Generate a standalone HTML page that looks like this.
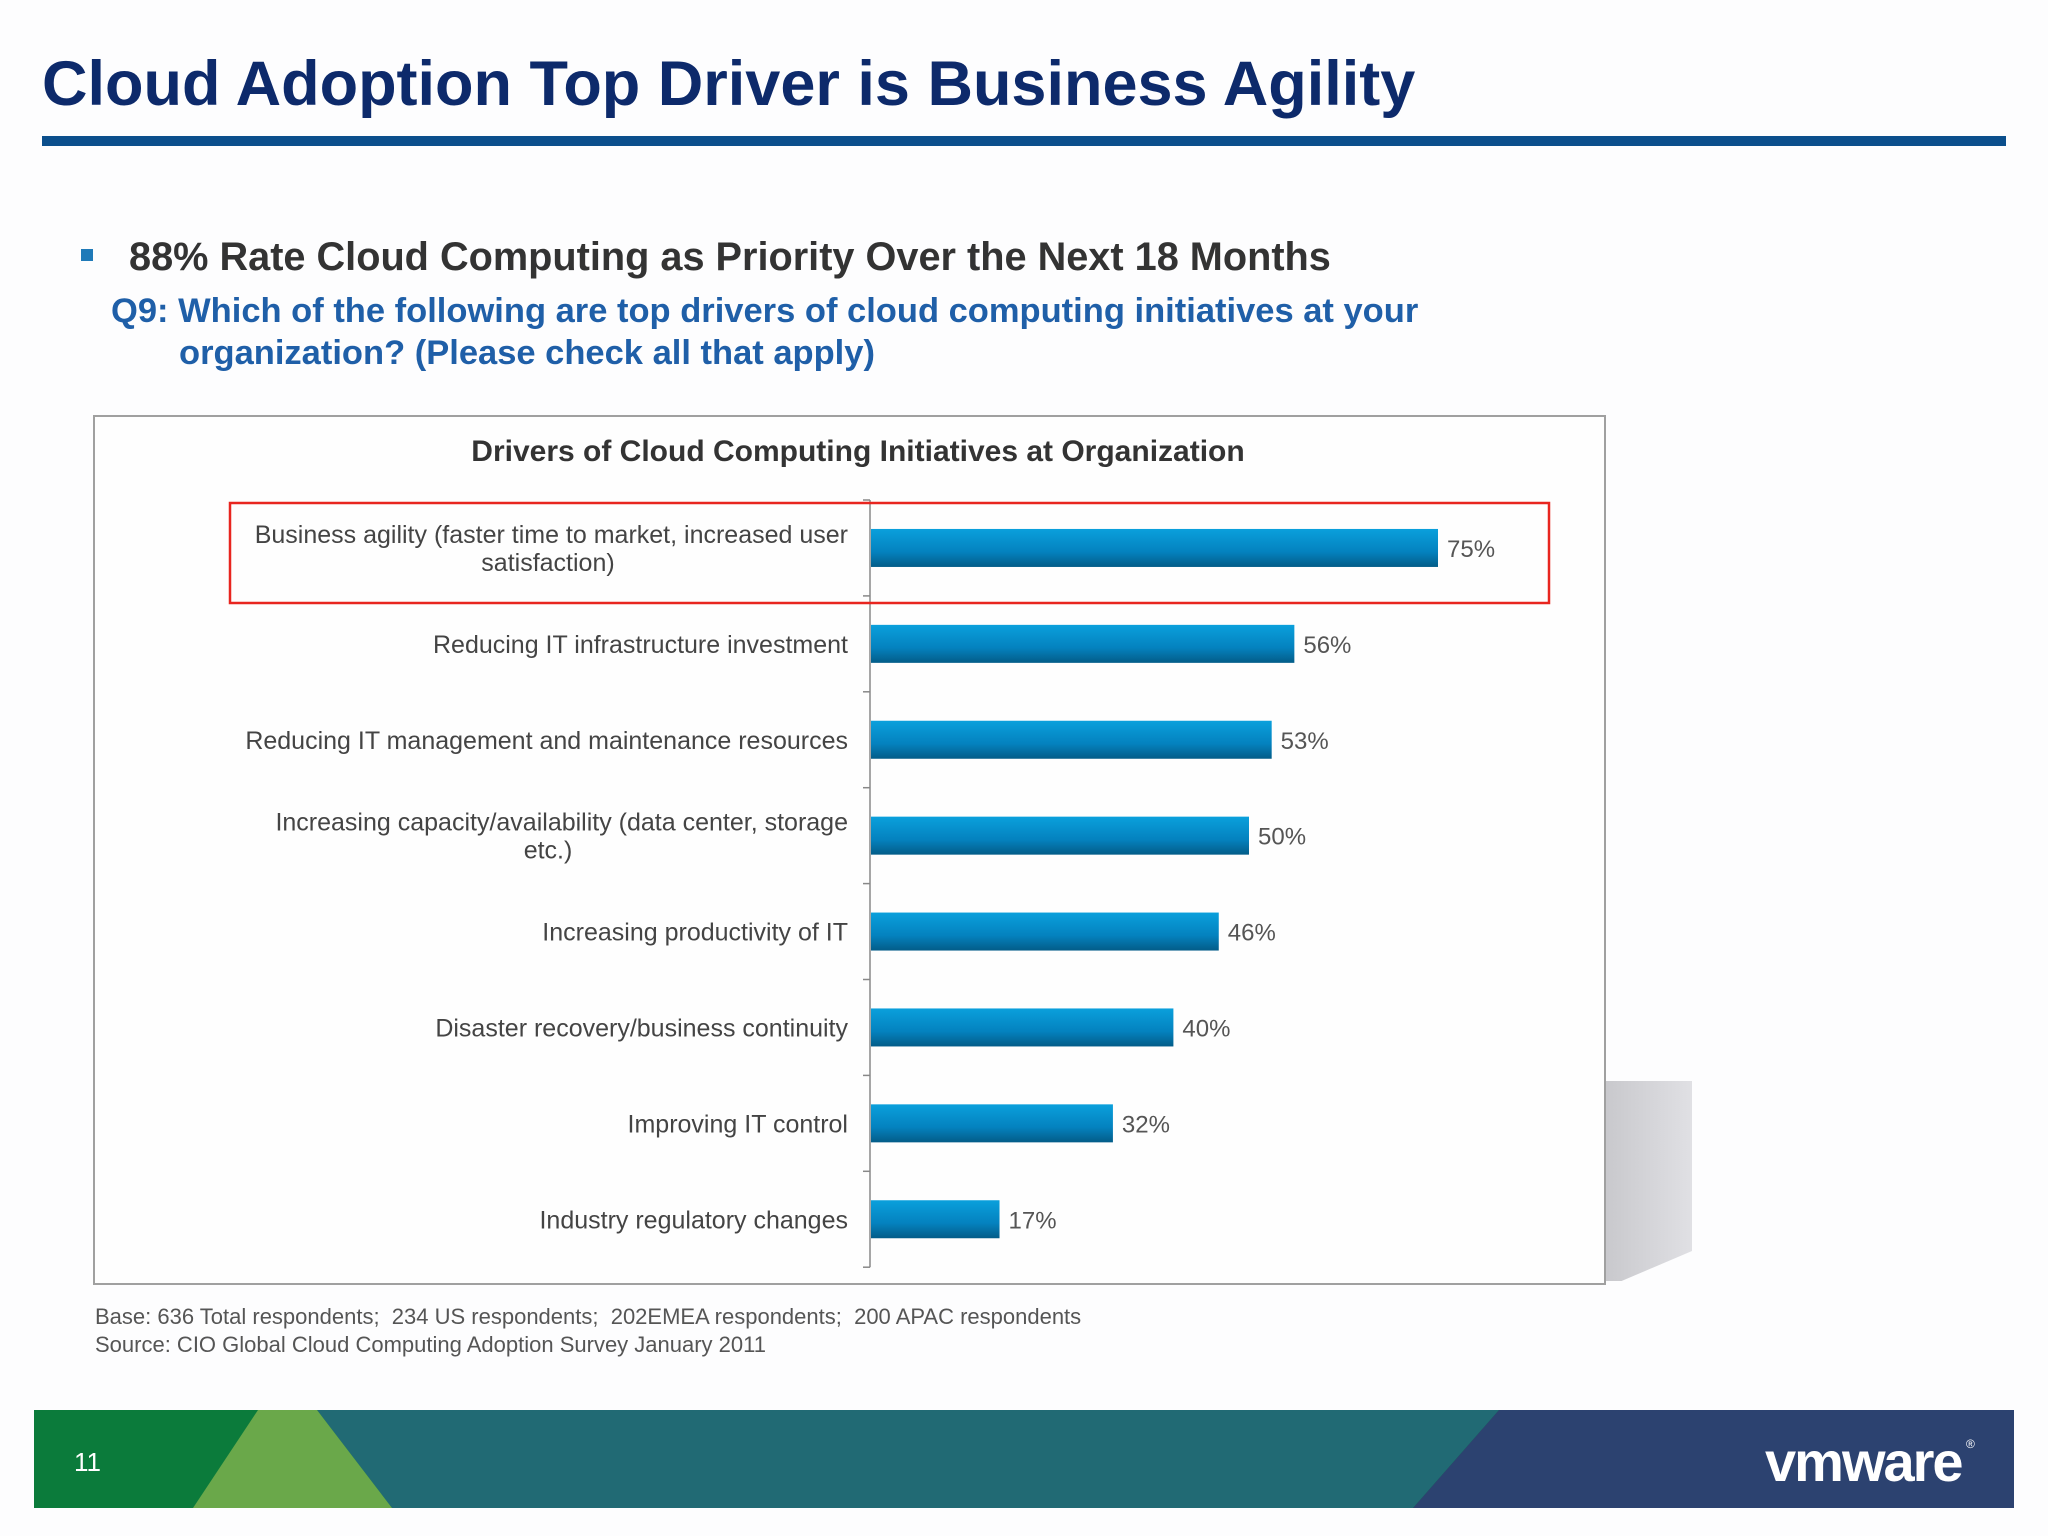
<!DOCTYPE html>
<html><head><meta charset="utf-8">
<style>
html,body{margin:0;padding:0;}
body{width:2048px;height:1536px;background:#fdfdfe;position:relative;overflow:hidden;font-family:"Liberation Sans",sans-serif;}
.abs{position:absolute;}
</style></head>
<body>
<div class="abs" style="left:42px;top:48px;font-size:63px;font-weight:bold;color:#0d2a6b;white-space:nowrap;">Cloud Adoption Top Driver is Business Agility</div>
<div class="abs" style="left:42px;top:136px;width:1964px;height:10px;background:#0b4f8c;"></div>
<div class="abs" style="left:81px;top:249px;width:12px;height:12px;background:#1f7ab8;"></div>
<div class="abs" style="left:129px;top:235px;font-size:39.7px;font-weight:bold;color:#333;white-space:nowrap;">88% Rate Cloud Computing as Priority Over the Next 18 Months</div>
<div class="abs" style="left:111px;top:290px;font-size:34.5px;font-weight:bold;color:#1f5fa8;line-height:42px;white-space:nowrap;">Q9: Which of the following are top drivers of cloud computing initiatives at your<br><span style="padding-left:68px">organization? (Please check all that apply)</span></div>

<div class="abs" style="left:1604px;top:1081px;width:88px;height:200px;background:linear-gradient(90deg,#c8c8cc,#e0e0e4);clip-path:polygon(0 0,100% 0,100% 85%,20% 100%,0 100%);"></div>
<div class="abs" style="left:93px;top:415px;width:1509px;height:866px;border:2px solid #a0a0a0;background:#fefefe;"></div>
<svg class="abs" style="left:0;top:0" width="2048" height="1536">
<defs><linearGradient id="bg" x1="0" y1="0" x2="0" y2="1"><stop offset="0" stop-color="#0aa0dc"/><stop offset="0.6" stop-color="#0482bf"/><stop offset="1" stop-color="#035c88"/></linearGradient></defs>
<text x="858" y="461" text-anchor="middle" font-size="30" font-weight="bold" fill="#333" font-family="Liberation Sans, sans-serif">Drivers of Cloud Computing Initiatives at Organization</text>
<g id="plot"></g>
<rect x="230" y="503" width="1319" height="100" fill="none" stroke="#e8251f" stroke-width="2.5"/>
</svg>
<div class="abs" style="left:95px;top:1303px;font-size:22px;color:#555;line-height:28px;white-space:nowrap;">Base: 636 Total respondents;&nbsp; 234 US respondents;&nbsp; 202EMEA respondents;&nbsp; 200 APAC respondents<br>Source: CIO Global Cloud Computing Adoption Survey January 2011</div>

<svg class="abs" style="left:0;top:1410px" width="2048" height="98">
<rect x="34" y="0" width="1980" height="98" fill="#0b7b3b"/>
<polygon points="317,0 1499,0 1413,98 392,98" fill="#216a74"/>
<polygon points="258,0 317,0 392,98 193,98" fill="#6aa84a"/>
<polygon points="1499,0 2014,0 2014,98 1413,98" fill="#2c4270"/>
<text x="74" y="61" font-size="26" fill="#fff" font-family="Liberation Sans, sans-serif">11</text>
<text x="1765" y="71" font-size="56" font-weight="bold" fill="#fff" font-family="Liberation Sans, sans-serif" letter-spacing="-2">vmware</text>
<text x="1966" y="38" font-size="12" fill="#fff" font-family="Liberation Sans, sans-serif">®</text>
</svg>

<script>
const categories=["Business agility (faster time to market, increased user|satisfaction)","Reducing IT infrastructure investment","Reducing IT management and maintenance resources","Increasing capacity/availability (data center, storage|etc.)","Increasing productivity of IT","Disaster recovery/business continuity","Improving IT control","Industry regulatory changes"];
const values=[75,56,53,50,46,40,32,17];
const valueLabels=["75%","56%","53%","50%","46%","40%","32%","17%"];
const NS="http://www.w3.org/2000/svg";
const g=document.getElementById('plot');
const x0=871, pxPer=7.56, top0=500, band=95.9, barH=38;
const xs=v=>x0+v*pxPer;
const yc=i=>top0+band*(i+0.5);
function mk(t,a){const e=document.createElementNS(NS,t);for(const k in a)e.setAttribute(k,a[k]);g.appendChild(e);return e;}
const ax=mk('line',{x1:870,y1:top0,x2:870,y2:top0+band*8,stroke:'#888','stroke-width':1.5});


for(let i=0;i<=8;i++){const tk=mk('line',{x1:863,y1:top0+band*i,x2:870,y2:top0+band*i,stroke:'#888','stroke-width':1.5});

}
values.forEach((v,i)=>{
 const r=mk('rect',{x:x0,y:yc(i)-barH/2,width:xs(v)-x0,height:barH,fill:'url(#bg)'});
 
 
 const t=mk('text',{x:xs(v)+9,y:yc(i)+9,'font-size':24,fill:'#555','font-family':'Liberation Sans, sans-serif'});
 t.textContent=valueLabels[i];
 
 
 const lines=categories[i].split('|');
 lines.forEach((ln,j)=>{
  const multi=lines.length>1;
  const c=mk('text',{x:multi&&j==1?548:848,y:yc(i)+9+(multi?(j==0?-14:14):0),'text-anchor':multi&&j==1?'middle':'end','font-size':25,fill:'#444','font-family':'Liberation Sans, sans-serif'});
  c.textContent=ln;
  
  
 });
});
</script>
</body></html>
